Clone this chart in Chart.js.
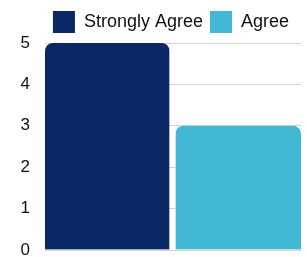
<!DOCTYPE html>
<html>
<head>
<meta charset="utf-8">
<script src="https://cdn.jsdelivr.net/npm/chart.js@4"></script>
<style>
  html, body { margin: 0; padding: 0; background: #fff; overflow: hidden; }
  canvas { display: block; }
</style>
</head>
<body>
<canvas id="chart" width="307" height="257"></canvas>
<script>
const categories = [''];
const seriesNames = ['Strongly Agree', 'Agree'];
const stronglyAgree = [5];
const agree = [3];
const yTicks = [0, 1, 2, 3, 4, 5];

const ctx = document.querySelector('#chart');

// the legend in the picture sits centred over the plot, not the canvas
const shiftLegend = {
  id: 'shiftLegend',
  afterLayout(chart) {
    const lg = chart.legend;
    const mid = (chart.chartArea.left + chart.chartArea.right) / 2;
    const d = mid - (lg.left + lg.right) / 2 - 2;
    lg.left += d;
    lg.right += d;
  }
};

new Chart(ctx, {
  type: 'bar',
  data: {
    labels: categories,
    datasets: [{
      label: seriesNames[0],
      data: stronglyAgree,
      backgroundColor: '#0b2866',
      borderColor: 'rgba(0,0,0,0)',
      // transparent right border leaves the gap between the two bars
      borderWidth: { left: 0, top: 0, right: 4, bottom: 0 },
      borderRadius: { topLeft: 8, topRight: 12, bottomLeft: 0, bottomRight: 0 },
      borderSkipped: 'start'
    }, {
      label: seriesNames[1],
      data: agree,
      backgroundColor: '#42b8d5',
      borderColor: 'rgba(0,0,0,0)',
      borderWidth: { left: 3, top: 0, right: 0, bottom: 0 },
      borderRadius: { topLeft: 11, topRight: 8, bottomLeft: 0, bottomRight: 0 },
      borderSkipped: 'start'
    }]
  },
  options: {
    responsive: false,
    animation: false,
    categoryPercentage: 1,
    barPercentage: 1,
    layout: { padding: { left: 0, right: 6, top: 4, bottom: 0 } },
    scales: {
      x: { display: false },
      y: {
        min: 0,
        max: 5,
        afterBuildTicks: (axis) => { axis.ticks = yTicks.map((v) => ({ value: v })); },
        afterFit: (axis) => {
          axis.width = 45;
          axis.paddingTop = 0;
          axis.paddingBottom = 7;
        },
        ticks: {
          color: '#111',
          padding: 15,
          font: { family: 'Liberation Sans', size: 17 }
        },
        grid: { color: '#d4d4d4', drawTicks: false },
        border: { display: false }
      }
    },
    plugins: {
      legend: {
        position: 'top',
        labels: {
          color: '#111',
          boxWidth: 22,
          boxHeight: 22,
          padding: 7,
          font: { family: 'Liberation Sans', size: 18 }
        }
      },
      tooltip: { enabled: false }
    }
  },
  plugins: [shiftLegend]
});
</script>
</body>
</html>
